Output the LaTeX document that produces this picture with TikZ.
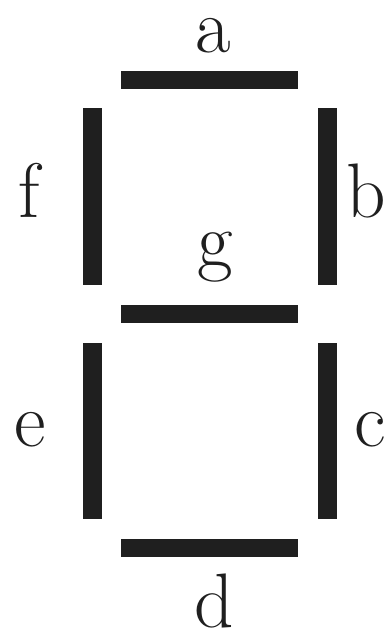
\documentclass[tikz,border=0pt]{standalone}
\usetikzlibrary{positioning}
\tikzset{
  hseg/.style={fill=black!88, inner sep=0pt, minimum width=3.54cm, minimum height=0.36cm},
  vseg/.style={fill=black!88, inner sep=0pt, minimum width=0.38cm, minimum height=3.54cm},
  lbl/.style={anchor=base, inner sep=0pt, text=black!88, font=\rmfamily\fontsize{44}{48}\selectfont},
}
\begin{document}
\begin{tikzpicture}[x=0.02cm, y=-0.02cm]
    \useasboundingbox (0,0) rectangle (387,638);
    % segments
    \node[hseg] (a) at (209.5,80) {};
    \node[vseg] (f) at (92.5,196.5) {};
    \node[vseg] (b) at (327.5,196.5) {};
    \node[hseg] (g) at (209.5,314) {};
    \node[vseg] (e) at (92.5,431) {};
    \node[vseg] (c) at (327.5,431) {};
    \node[hseg] (d) at (209.5,548) {};
    % labels
    \node[lbl] (la) at (213,53) {a};
    \node[lbl] (lf) at (29,218) {f};
    \node[lbl, anchor=base east] (lb) at (386,218) {b};
    \node[lbl] (lg) at (215,267) {g};
    \node[lbl] (le) at (30,446) {e};
    \node[lbl, anchor=base east] (lc) at (386,446) {c};
    \node[lbl] (ld) at (214,627) {d};
\end{tikzpicture}
\end{document}
